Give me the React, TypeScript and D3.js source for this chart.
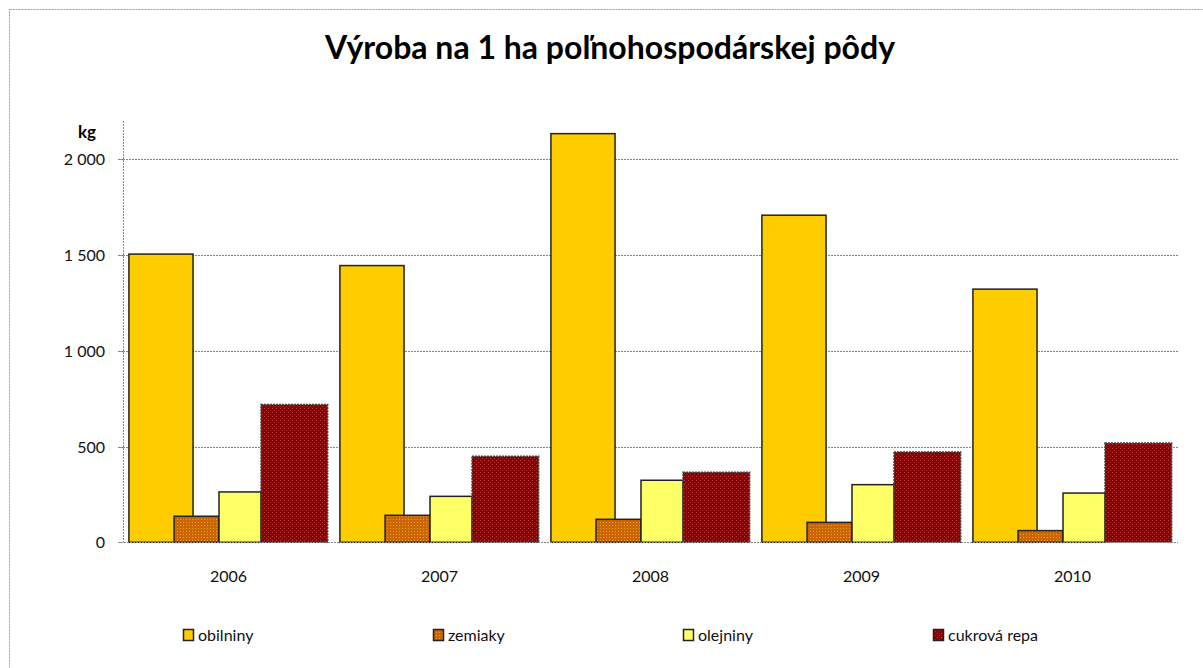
import React, { useEffect, useRef } from 'react'
import * as d3 from 'd3'

const years = ['2006', '2007', '2008', '2009', '2010']
const seriesNames = ['obilniny', 'zemiaky', 'olejniny', 'cukrová repa']
const obilniny = [1505, 1445, 2134, 1708, 1322]
const zemiaky = [136, 141, 120, 104, 61]
const olejniny = [263, 240, 324, 301, 257]
const cukrovaRepa = [719, 449, 366, 472, 518]
const yTicks = [0, 500, 1000, 1500, 2000]

const W = 1203
const H = 668
const FONT = 'Lato, "Open Sans", sans-serif'

// bar slots within one year band (fraction of band width), as drawn by the original
const slots = [
    [0.028, 0.332],
    [0.242, 0.455],
    [0.455, 0.654],
    [0.654, 0.97],
]
const fills = ['#FFCC00', 'url(#patZem)', '#FFFF66', 'url(#patCuk)']

const App = () => {
    const svgRef = useRef<SVGSVGElement>(null)

    useEffect(() => {
        const svg = d3.select(svgRef.current)
        svg.selectAll('*').remove()

        const values = [obilniny, zemiaky, olejniny, cukrovaRepa]

        const x = d3.scaleBand().domain(years).range([123, 1178]).padding(0)
        const y = d3.scaleLinear().domain([0, 2200]).range([542.3, 121])
        const fmt = (v: number) => d3.format(',')(v).replace(',', ' ')

        const defs = svg.append('defs')
        const patZem = defs.append('pattern').attr('id', 'patZem')
            .attr('width', 3).attr('height', 3).attr('patternUnits', 'userSpaceOnUse')
        patZem.append('rect').attr('width', 3).attr('height', 3).attr('fill', '#CC6600')
        patZem.append('rect').attr('width', 1).attr('height', 1).attr('fill', '#E89A40')
        const patCuk = defs.append('pattern').attr('id', 'patCuk')
            .attr('width', 4).attr('height', 4).attr('patternUnits', 'userSpaceOnUse')
        patCuk.append('rect').attr('width', 4).attr('height', 4).attr('fill', '#8E0000')
        patCuk.append('rect').attr('width', 1).attr('height', 1).attr('fill', '#B04040')
        patCuk.append('rect').attr('x', 2).attr('y', 2).attr('width', 1).attr('height', 1).attr('fill', '#A02828')

        // chart area border
        svg.append('rect')
            .attr('x', 9.5).attr('y', 9.5).attr('width', 1400).attr('height', 900)
            .attr('fill', 'none').attr('stroke', '#999').attr('stroke-dasharray', '2,1')

        // title
        svg.append('text')
            .attr('x', 610).attr('y', 59)
            .attr('text-anchor', 'middle')
            .attr('font-family', FONT).attr('font-weight', 'bold').attr('font-size', 32)
            .attr('fill', '#000')
            .text('Výroba na 1 ha poľnohospodárskej pôdy')

        // gridlines
        svg.selectAll('.grid')
            .data(yTicks.slice(1))
            .enter()
            .append('line')
            .attr('x1', 123).attr('x2', 1178)
            .attr('y1', d => Math.round(y(d)) + 0.5).attr('y2', d => Math.round(y(d)) + 0.5)
            .attr('stroke', '#888').attr('stroke-dasharray', '2,1')

        // y axis
        svg.append('line')
            .attr('x1', 123.5).attr('x2', 123.5).attr('y1', y(2200)).attr('y2', y(0))
            .attr('stroke', '#888').attr('stroke-dasharray', '2,1')
        svg.selectAll('.ytick')
            .data(yTicks)
            .enter()
            .append('line')
            .attr('x1', 118).attr('x2', 123)
            .attr('y1', d => Math.round(y(d)) + 0.5).attr('y2', d => Math.round(y(d)) + 0.5)
            .attr('stroke', '#888')
        svg.selectAll('.ylab')
            .data(yTicks)
            .enter()
            .append('text')
            .attr('x', 105).attr('y', d => y(d) + 6)
            .attr('text-anchor', 'end')
            .attr('font-family', FONT).attr('font-size', 16)
            .attr('fill', '#111')
            .text(d => fmt(d))
        svg.append('text')
            .attr('x', 87).attr('y', 138)
            .attr('text-anchor', 'middle')
            .attr('font-family', FONT).attr('font-weight', 'bold').attr('font-size', 17)
            .text('kg')

        // bars, series by series so later ones overlap earlier ones
        values.forEach((vals, si) => {
            svg.selectAll(`.bar${si}`)
                .data(years.map((yr, i) => ({ yr, v: vals[i] })))
                .enter()
                .append('rect')
                .attr('x', d => x(d.yr)! + slots[si][0] * x.bandwidth())
                .attr('width', (slots[si][1] - slots[si][0]) * x.bandwidth())
                .attr('y', d => y(d.v))
                .attr('height', d => y(0) - y(d.v))
                .attr('fill', fills[si])
                .attr('stroke', si === 3 ? '#444' : '#222')
                .attr('stroke-width', 1.5)
                .attr('stroke-dasharray', si === 3 ? '2,1' : null)
        })

        // x axis baseline
        svg.append('line')
            .attr('x1', 118).attr('x2', 1178)
            .attr('y1', Math.round(y(0)) + 0.5).attr('y2', Math.round(y(0)) + 0.5)
            .attr('stroke', '#888').attr('stroke-dasharray', '2,1')

        svg.selectAll('.xlab')
            .data(years)
            .enter()
            .append('text')
            .attr('x', d => x(d)! + x.bandwidth() / 2)
            .attr('y', 582)
            .attr('text-anchor', 'middle')
            .attr('font-family', FONT).attr('font-size', 16)
            .attr('fill', '#111')
            .text(d => d)

        // legend
        const legend = svg.selectAll('.leg')
            .data(seriesNames)
            .enter()
            .append('g')
            .attr('transform', (d, i) => `translate(${183 + i * 250},629)`)
        legend.append('rect')
            .attr('x', 0.5).attr('y', 0.5).attr('width', 10).attr('height', 11)
            .attr('fill', (d, i) => fills[i])
            .attr('stroke', '#222').attr('stroke-width', 1.5)
        legend.append('text')
            .attr('x', 15).attr('y', 12)
            .attr('font-family', FONT).attr('font-size', 16)
            .attr('fill', '#111')
            .text(d => d)
    }, [])

    return (
        <div style={{ position: 'fixed', left: 0, top: 0, width: W, height: H, background: '#fff' }}>
            <svg ref={svgRef} width={W} height={H}></svg>
        </div>
    )
}

export default App
